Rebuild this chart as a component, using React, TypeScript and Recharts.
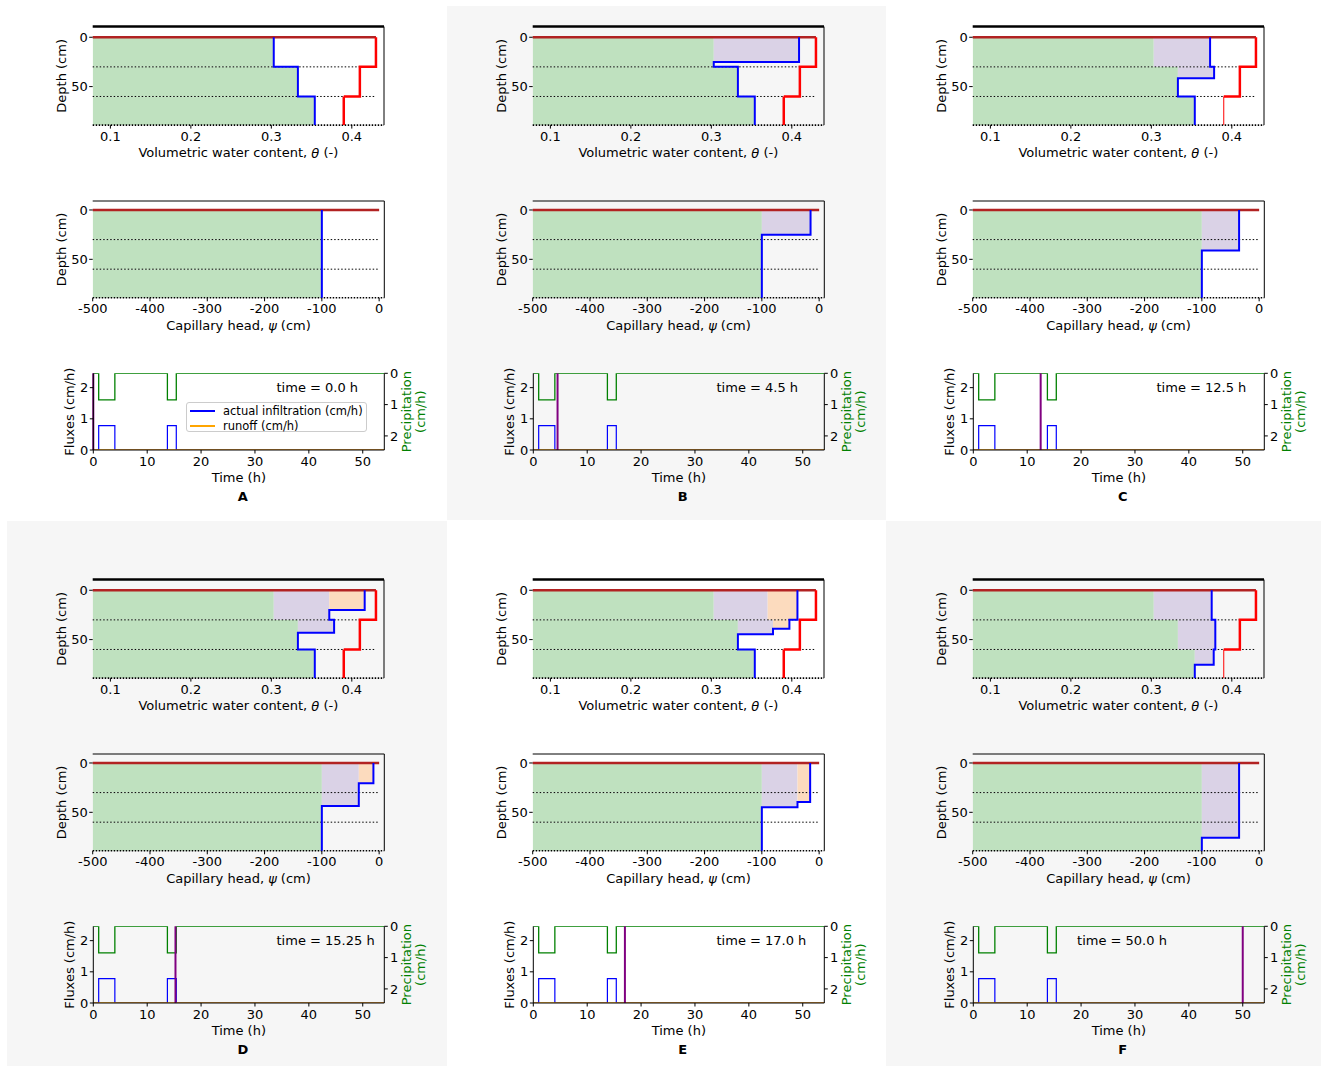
import React from "react";
import {
  ComposedChart,
  XAxis,
  YAxis,
  Scatter,
  Line,
  ReferenceArea,
  ReferenceLine,
  ReferenceDot,
  Legend,
} from "recharts";

const FONT = '"DejaVu Sans", Verdana, sans-serif';
const FS = 13;

// soil: three 30 cm layers
const layerDepths = [0, 30, 60, 90];
const thetaInitial = [0.303, 0.333, 0.354];
const thetaSaturated = [0.43, 0.41, 0.39];
const psiInitial = [-100, -100, -100];

const panelLetters = ["A", "B", "C", "D", "E", "F"];
const panelTimes = [0, 4.5, 12.5, 15.25, 17, 50];
const panelTimeText = ["0.0", "4.5", "12.5", "15.25", "17.0", "50.0"];

// water content profile at each snapshot: depth breaks and theta between them
const thetaBreaks = [
  [0, 30, 60, 90],
  [0, 25, 30, 60, 90],
  [0, 30, 41.5, 60, 90],
  [0, 20, 30, 43, 60, 90],
  [0, 30, 39, 44.6, 60, 90],
  [0, 30, 60, 75.5, 90],
];
const thetaNow = [
  [0.303, 0.333, 0.354],
  [0.409, 0.303, 0.333, 0.354],
  [0.373, 0.378, 0.333, 0.354],
  [0.416, 0.372, 0.378, 0.333, 0.354],
  [0.407, 0.397, 0.3766, 0.333, 0.354],
  [0.375, 0.3795, 0.3775, 0.354],
];
// [top, bottom, from, to]
const thetaPurple = [
  [],
  [[0, 25, 0.303, 0.409]],
  [[0, 30, 0.303, 0.373], [30, 41.5, 0.333, 0.378]],
  [[0, 30, 0.303, 0.372], [30, 43, 0.333, 0.378]],
  [[0, 30, 0.303, 0.37], [30, 44.6, 0.333, 0.3766]],
  [[0, 30, 0.303, 0.375], [30, 60, 0.333, 0.3795], [60, 75.5, 0.354, 0.3775]],
];
const thetaOrange = [
  [],
  [],
  [],
  [[0, 20, 0.372, 0.416]],
  [[0, 30, 0.37, 0.407], [30, 39, 0.3766, 0.397]],
  [],
];

// capillary head profile at each snapshot
const psiBreaks = [
  [0, 90],
  [0, 25, 90],
  [0, 41, 90],
  [0, 20.6, 43.6, 90],
  [0, 39.5, 44.9, 90],
  [0, 75.7, 90],
];
const psiNow = [
  [-100],
  [-15, -100],
  [-35, -100],
  [-10, -35.5, -100],
  [-15.7, -37.8, -100],
  [-35, -100],
];
const psiPurple = [
  [],
  [[0, 25, -100, -15]],
  [[0, 41, -100, -35]],
  [[0, 43.6, -100, -35.5]],
  [[0, 44.9, -100, -37.8]],
  [[0, 75.7, -100, -35]],
];
const psiOrange = [
  [],
  [],
  [],
  [[0, 20.6, -35.5, -10]],
  [[0, 39.5, -37.8, -15.7]],
  [],
];

// fluxes over time
const hours = [0, 1, 4, 13.75, 15.4, 54];
const precipitation = [0, 0.85, 0, 0.85, 0, 0];
const infiltration = [0, 0.78, 0, 0.78, 0, 0];
const runoff = [0, 0, 0, 0, 0, 0];

const fluxData = hours.map((t, k) => ({
  t,
  precip: precipitation[k],
  infil: infiltration[k],
  runoff: runoff[k],
}));

const THETA_X: [number, number] = [0.078, 0.44];
const THETA_Y: [number, number] = [-10.8, 89];
const PSI_X: [number, number] = [-500, 9];
const PSI_Y: [number, number] = [-9.1, 89];
const TIME_X: [number, number] = [0, 54];
const FLUX_Y: [number, number] = [0, 2.46];

const COL_X = [0, 440, 880];
const ROW_Y = [0, 552.5];
const thinLowerRed = [false, false, true, false, false, true];

const GREEN_FILL = "#bfe1bf";
const PURPLE_FILL = "#dad2e6";
const ORANGE_FILL = "#fcdbbe";
const tickStyle = { fill: "#000", fontSize: FS, fontFamily: FONT };
const blackLine = { stroke: "#000", strokeWidth: 1 };
const dottedAxis = { stroke: "#000", strokeWidth: 1.6, strokeDasharray: "1.5 1.5" };

const stepPoints = (breaks: number[], values: number[]) =>
  values.flatMap((v, k) => [
    { x: v, y: breaks[k] },
    { x: v, y: breaks[k + 1] },
  ]);

const NoDot = () => <g />;

const xTitle = (content: React.ReactNode, dy: number, letter?: string) =>
  function XTitle(props: any) {
    const vb = props.viewBox || { x: 0, y: 0, width: 0, height: 0 };
    const cx = vb.x + vb.width / 2;
    return (
      <g>
        <text x={cx} y={vb.y + dy} textAnchor="middle" dominantBaseline="central"
          fontSize={FS} fontFamily={FONT} fill="#000">
          {content}
        </text>
        {letter && (
          <text x={cx + 4} y={vb.y + 46} textAnchor="middle" dominantBaseline="central"
            fontSize={FS} fontWeight="bold" fontFamily={FONT} fill="#000">
            {letter}
          </text>
        )}
      </g>
    );
  };

const yTitle = (lines: string[], dx: number, side: "left" | "right", color = "#000") =>
  function YTitle(props: any) {
    const vb = props.viewBox || { x: 0, y: 0, width: 0, height: 0 };
    const edge = side === "left" ? vb.x + vb.width : vb.x;
    const cy = vb.y + vb.height / 2;
    return (
      <g>
        {lines.map((line, k) => {
          const x = edge + dx + k * 14;
          return (
            <text key={k} x={x} y={cy} transform={`rotate(-90 ${x} ${cy})`}
              textAnchor="middle" dominantBaseline="central"
              fontSize={FS} fontFamily={FONT} fill={color}>
              {line}
            </text>
          );
        })}
      </g>
    );
  };

// frame lines on the top and right of a depth plot
const Frame = (xd: [number, number], yd: [number, number], topWidth: number) => [
  <ReferenceLine key="top" xAxisId="b" yAxisId="d" y={yd[0]} stroke="#000" strokeWidth={topWidth} ifOverflow="visible" />,
  <ReferenceLine key="right" xAxisId="b" yAxisId="d" x={xd[1]} stroke="#000" strokeWidth={1} ifOverflow="visible" />,
];

const ThetaChart = ({ i }: { i: number }) => {
  const redUpper = stepPoints(layerDepths.slice(0, 3), thetaSaturated.slice(0, 2)).concat([
    { x: thetaSaturated[2], y: layerDepths[2] },
  ]);
  const redLower = stepPoints(layerDepths.slice(2), thetaSaturated.slice(2));
  return (
    <ComposedChart width={440} height={175} margin={{ top: 26.6, right: 56, bottom: 9.9, left: 52.7 }}>
      <XAxis xAxisId="b" type="number" dataKey="x" domain={THETA_X} allowDataOverflow
        ticks={[0.1, 0.2, 0.3, 0.4]} tickFormatter={(v: number) => v.toFixed(1)}
        tick={tickStyle} tickSize={3.5} tickMargin={3.5} tickLine={blackLine}
        axisLine={dottedAxis} height={40}
        label={xTitle(<>Volumetric water content, <tspan fontStyle="italic">θ</tspan> (-)</>, 27.6)} />
      <YAxis yAxisId="d" type="number" dataKey="y" reversed domain={THETA_Y} allowDataOverflow
        ticks={[0, 50]} tick={tickStyle} tickSize={3.5} tickMargin={1.5} tickLine={blackLine}
        axisLine={false} width={40} label={yTitle(["Depth (cm)"], -31, "left")} />

      {thetaInitial.map((v, k) => (
        <ReferenceArea key={`g${k}`} xAxisId="b" yAxisId="d" x1={THETA_X[0]} x2={v}
          y1={layerDepths[k]} y2={layerDepths[k + 1]} fill={GREEN_FILL} fillOpacity={1}
          stroke="none" ifOverflow="hidden" />
      ))}
      {thetaPurple[i].map((r, k) => (
        <ReferenceArea key={`p${k}`} xAxisId="b" yAxisId="d" x1={r[2]} x2={r[3]} y1={r[0]} y2={r[1]}
          fill={PURPLE_FILL} fillOpacity={1} stroke="none" ifOverflow="hidden" />
      ))}
      {thetaOrange[i].map((r, k) => (
        <ReferenceArea key={`o${k}`} xAxisId="b" yAxisId="d" x1={r[2]} x2={r[3]} y1={r[0]} y2={r[1]}
          fill={ORANGE_FILL} fillOpacity={1} stroke="none" ifOverflow="hidden" />
      ))}

      <ReferenceLine xAxisId="b" yAxisId="d" stroke="#000" strokeDasharray="1.5 2"
        segment={[{ x: THETA_X[0], y: layerDepths[1] }, { x: thetaSaturated[1], y: layerDepths[1] }]} />
      <ReferenceLine xAxisId="b" yAxisId="d" stroke="#000" strokeDasharray="1.5 2"
        segment={[{ x: THETA_X[0], y: layerDepths[2] }, { x: thetaSaturated[0], y: layerDepths[2] }]} />
      {Frame(THETA_X, THETA_Y, 2.5)}

      <Scatter xAxisId="b" yAxisId="d" data={redUpper} shape={NoDot} fill="#ff0000"
        line={{ stroke: "#ff0000", strokeWidth: 2.5 }} isAnimationActive={false} />
      <Scatter xAxisId="b" yAxisId="d" data={redLower} shape={NoDot} fill="#ff0000"
        line={{ stroke: "#ff0000", strokeWidth: thinLowerRed[i] ? 1 : 2.5 }} isAnimationActive={false} />
      <Scatter xAxisId="b" yAxisId="d" data={stepPoints(thetaBreaks[i], thetaNow[i])} shape={NoDot}
        fill="#0000ff" line={{ stroke: "#0000ff", strokeWidth: 2 }} isAnimationActive={false} />
      <ReferenceLine xAxisId="b" yAxisId="d" stroke="#b22222" strokeWidth={2.5}
        segment={[{ x: THETA_X[0], y: 0 }, { x: thetaSaturated[0], y: 0 }]} />
    </ComposedChart>
  );
};

const PsiChart = ({ i }: { i: number }) => (
  <ComposedChart width={440} height={170} margin={{ top: 21, right: 55.7, bottom: 12.2, left: 52.7 }}>
    <XAxis xAxisId="b" type="number" dataKey="x" domain={PSI_X} allowDataOverflow
      ticks={[-500, -400, -300, -200, -100, 0]}
      tick={tickStyle} tickSize={3.5} tickMargin={2.6} tickLine={blackLine}
      axisLine={dottedAxis} height={40}
      label={xTitle(<>Capillary head, <tspan fontStyle="italic">ψ</tspan> (cm)</>, 27.2)} />
    <YAxis yAxisId="d" type="number" dataKey="y" reversed domain={PSI_Y} allowDataOverflow
      ticks={[0, 50]} tick={tickStyle} tickSize={3.5} tickMargin={1.5} tickLine={blackLine}
      axisLine={false} width={40} label={yTitle(["Depth (cm)"], -31, "left")} />

    {psiInitial.map((v, k) => (
      <ReferenceArea key={`g${k}`} xAxisId="b" yAxisId="d" x1={PSI_X[0]} x2={v}
        y1={layerDepths[k]} y2={layerDepths[k + 1]} fill={GREEN_FILL} fillOpacity={1}
        stroke="none" ifOverflow="hidden" />
    ))}
    {psiPurple[i].map((r, k) => (
      <ReferenceArea key={`p${k}`} xAxisId="b" yAxisId="d" x1={r[2]} x2={r[3]} y1={r[0]} y2={r[1]}
        fill={PURPLE_FILL} fillOpacity={1} stroke="none" ifOverflow="hidden" />
    ))}
    {psiOrange[i].map((r, k) => (
      <ReferenceArea key={`o${k}`} xAxisId="b" yAxisId="d" x1={r[2]} x2={r[3]} y1={r[0]} y2={r[1]}
        fill={ORANGE_FILL} fillOpacity={1} stroke="none" ifOverflow="hidden" />
    ))}

    {[layerDepths[1], layerDepths[2]].map((d) => (
      <ReferenceLine key={d} xAxisId="b" yAxisId="d" stroke="#000" strokeDasharray="1.5 2"
        segment={[{ x: PSI_X[0], y: d }, { x: 0, y: d }]} />
    ))}
    {Frame(PSI_X, PSI_Y, 1)}

    <Scatter xAxisId="b" yAxisId="d" data={stepPoints(psiBreaks[i], psiNow[i])} shape={NoDot}
      fill="#0000ff" line={{ stroke: "#0000ff", strokeWidth: 2 }} isAnimationActive={false} />
    <ReferenceLine xAxisId="b" yAxisId="d" stroke="#b22222" strokeWidth={2.5}
      segment={[{ x: PSI_X[0], y: 0 }, { x: 0, y: 0 }]} />
  </ComposedChart>
);

const FluxLegend = (props: any) => {
  const items = (props.payload || []).filter((e: any) => e.type !== "none");
  return (
    <div style={{
      boxSizing: "border-box", width: 181, height: 30, border: "1px solid #cccccc",
      borderRadius: 3, background: "rgba(255,255,255,0.8)", paddingTop: 1,
      fontFamily: FONT, fontSize: 11.5, color: "#000",
    }}>
      {items.map((e: any) => (
        <div key={e.value} style={{ display: "flex", alignItems: "center", height: 15, whiteSpace: "nowrap" }}>
          <span style={{ display: "inline-block", width: 25, marginLeft: 3, marginRight: 8, borderTop: `2px solid ${e.color}` }} />
          {e.value}
        </div>
      ))}
    </div>
  );
};

const FluxChart = ({ i }: { i: number }) => {
  const t = panelTimes[i];
  const labelAt = t > 30 ? 19.25 : 34;
  return (
    <ComposedChart width={440} height={165} data={fluxData}
      margin={{ top: 18.3, right: 15.7, bottom: 30, left: 53.3 }}>
      <XAxis xAxisId="b" type="number" dataKey="t" domain={TIME_X} allowDataOverflow
        ticks={[0, 10, 20, 30, 40, 50]} tick={tickStyle} tickSize={3.5} tickMargin={3.5}
        tickLine={blackLine} axisLine={blackLine} height={40}
        label={xTitle("Time (h)", 27, panelLetters[i])} />
      <YAxis yAxisId="f" type="number" domain={FLUX_Y} allowDataOverflow ticks={[0, 1, 2]}
        tick={tickStyle} tickSize={3.5} tickMargin={1.5} tickLine={blackLine} axisLine={blackLine}
        width={40} label={yTitle(["Fluxes (cm/h)"], -23.3, "left")} />
      <YAxis yAxisId="p" orientation="right" type="number" reversed domain={[0, 2.45]} allowDataOverflow
        ticks={[0, 1, 2]} tick={tickStyle} tickSize={3.5} tickMargin={2.2} tickLine={blackLine}
        axisLine={blackLine} width={40}
        label={yTitle(["Precipitation", "(cm/h)"], 22.4, "right", "#008000")} />

      <Line xAxisId="b" yAxisId="p" dataKey="precip" type="stepAfter" stroke="#008000" strokeWidth={1.3}
        dot={false} legendType="none" isAnimationActive={false} />
      <Line xAxisId="b" yAxisId="f" dataKey="infil" name="actual infiltration (cm/h)" type="stepAfter"
        stroke="#0000ff" strokeWidth={1.2} dot={false} isAnimationActive={false} />
      <Line xAxisId="b" yAxisId="f" dataKey="runoff" name="runoff (cm/h)" type="stepAfter"
        stroke="#ffa500" strokeWidth={1.5} dot={false} isAnimationActive={false} />
      <ReferenceLine xAxisId="b" yAxisId="f" x={t} stroke="#800080" strokeWidth={2} />
      <ReferenceDot xAxisId="b" yAxisId="f" x={labelAt} y={2} r={0} fill="none" stroke="none"
        label={{ value: `time = ${panelTimeText[i]} h`, position: "right", offset: 0,
          fill: "#000", fontSize: FS, fontFamily: FONT }} />
      {i === 0 && (
        <Legend layout="vertical" align="center" verticalAlign="middle" content={FluxLegend}
          wrapperStyle={{ left: 186, top: 46.7, width: 181, height: 30 }} />
      )}
    </ComposedChart>
  );
};

const shadedPanels = [
  { left: 447, top: 6, width: 439, height: 514 },
  { left: 7, top: 521, width: 440, height: 545 },
  { left: 886, top: 521, width: 435, height: 545 },
];

const Panel = ({ i }: { i: number }) => (
  <div style={{ position: "absolute", left: COL_X[i % 3], top: ROW_Y[Math.floor(i / 3)], width: 440, height: 520 }}>
    <div style={{ position: "absolute", left: 0, top: 0 }}>
      <ThetaChart i={i} />
    </div>
    <div style={{ position: "absolute", left: 0, top: 180 }}>
      <PsiChart i={i} />
    </div>
    <div style={{ position: "absolute", left: 0, top: 355 }}>
      <FluxChart i={i} />
    </div>
  </div>
);

export default function App() {
  return (
    <div style={{ position: "absolute", left: 0, top: 0, width: 1322, height: 1067, background: "#fff", fontFamily: FONT }}>
      {shadedPanels.map((s, k) => (
        <div key={k} style={{ position: "absolute", background: "#f6f6f6", ...s }} />
      ))}
      {panelLetters.map((l, i) => (
        <Panel key={l} i={i} />
      ))}
    </div>
  );
}
